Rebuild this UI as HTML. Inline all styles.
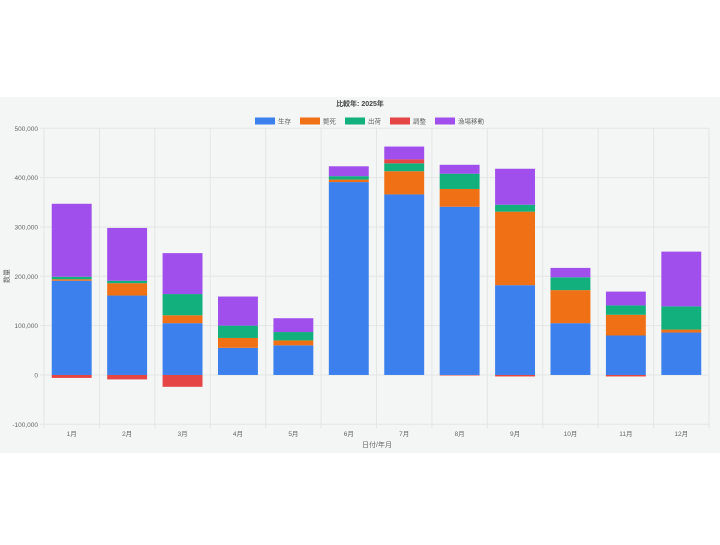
<!DOCTYPE html>
<html><head><meta charset="utf-8"><style>
body{margin:0;width:720px;height:540px;background:#fff;overflow:hidden;font-family:"Liberation Sans","Noto Sans CJK JP",sans-serif}
</style></head><body>
<svg width="720" height="540" xmlns="http://www.w3.org/2000/svg">
<rect x="0" y="97" width="720" height="356" fill="#f4f5f5"/>
<text x="360" y="106" text-anchor="middle" font-size="7" font-weight="bold" fill="#444">比較年: 2025年</text>
<g id="legend"></g>
<g id="grid"></g>
<g id="bars"></g>
<g id="axes"></g>
<text x="9" y="276" text-anchor="middle" font-size="7" fill="#666" transform="rotate(-90 9 276)">数量</text>
<text x="377" y="447" text-anchor="middle" font-size="7" fill="#666">日付/年月</text>
</svg>
<script>
const categories=["1月","2月","3月","4月","5月","6月","7月","8月","9月","10月","11月","12月"];
const seriesNames=["生存","斃死","出荷","調整","漁場移動"];
const seriesColors=["#3b80ec","#f07016","#12b07c","#e54545","#a04fec"];
const survive=[191,161,105,55,60,391,366,341,182,105,80,86];
const dead=[3,25,16,20,10,5,47,36,149,67,42,6];
const shipped=[5,5,43,25,17,7,16,31,14,26,19,47];
const adjust=[-6,-9,-24,0,0,0,8,-1,-3,0,-3,0];
const moved=[148,107,83,59,28,20,26,18,73,19,28,111];
const yTicks=[-100,0,100,200,300,400,500];
const yTickLabels=["-100,000","0","100,000","200,000","300,000","400,000","500,000"];
const series=[survive,dead,shipped,adjust,moved];
const NS="http://www.w3.org/2000/svg";
const L=44,R=709,T=128.3,B=424.3,ymin=-100,ymax=500;
const y=v=>B-(v-ymin)/(ymax-ymin)*(B-T);
const cw=(R-L)/categories.length;
const xc=i=>L+cw*(i+0.5);
function mk(tag,attrs,parent){const e=document.createElementNS(NS,tag);for(const k in attrs)e.setAttribute(k,attrs[k]);parent.appendChild(e);return e;}
const grid=document.getElementById('grid'),axes=document.getElementById('axes'),bars=document.getElementById('bars'),legend=document.getElementById('legend');
yTicks.forEach((t,i)=>{
 const l=mk('line',{x1:L-4,x2:R,y1:y(t),y2:y(t),stroke:'#e4e5e5','stroke-width':1},grid);
 
 
 const tx=mk('text',{x:L-6,y:y(t)+2.5,'text-anchor':'end','font-size':6.5,fill:'#666'},axes);
 tx.textContent=yTickLabels[i];
 
 
});
for(let i=0;i<=categories.length;i++){
 const l=mk('line',{x1:L+cw*i,x2:L+cw*i,y1:T,y2:B+4,stroke:'#e4e5e5','stroke-width':1},grid);
 
 
}
categories.forEach((c,i)=>{
 const tx=mk('text',{x:xc(i),y:436,'text-anchor':'middle','font-size':6.5,fill:'#666'},axes);
 tx.textContent=c;
 
 
 let pos=0,neg=0;const bw=cw*0.72;
 series.forEach((s,k)=>{
  const v=s[i];if(!v)return;
  let a,b;
  if(v>=0){a=pos;b=pos+v;pos=b;}else{a=neg;b=neg+v;neg=b;}
  const r=mk('rect',{x:xc(i)-bw/2,y:Math.min(y(a),y(b)),width:bw,height:Math.abs(y(a)-y(b)),fill:seriesColors[k]},bars);
  
  
 });
});
let lx=255;
seriesNames.forEach((n,k)=>{
 const r=mk('rect',{x:lx,y:117.5,width:20,height:7,fill:seriesColors[k]},legend);
 
 
 const t=mk('text',{x:lx+23,y:123.5,'font-size':6.5,fill:'#666'},legend);
 t.textContent=n;
 
 
 lx+=23+n.length*7+8;
});
</script>
</body></html>
